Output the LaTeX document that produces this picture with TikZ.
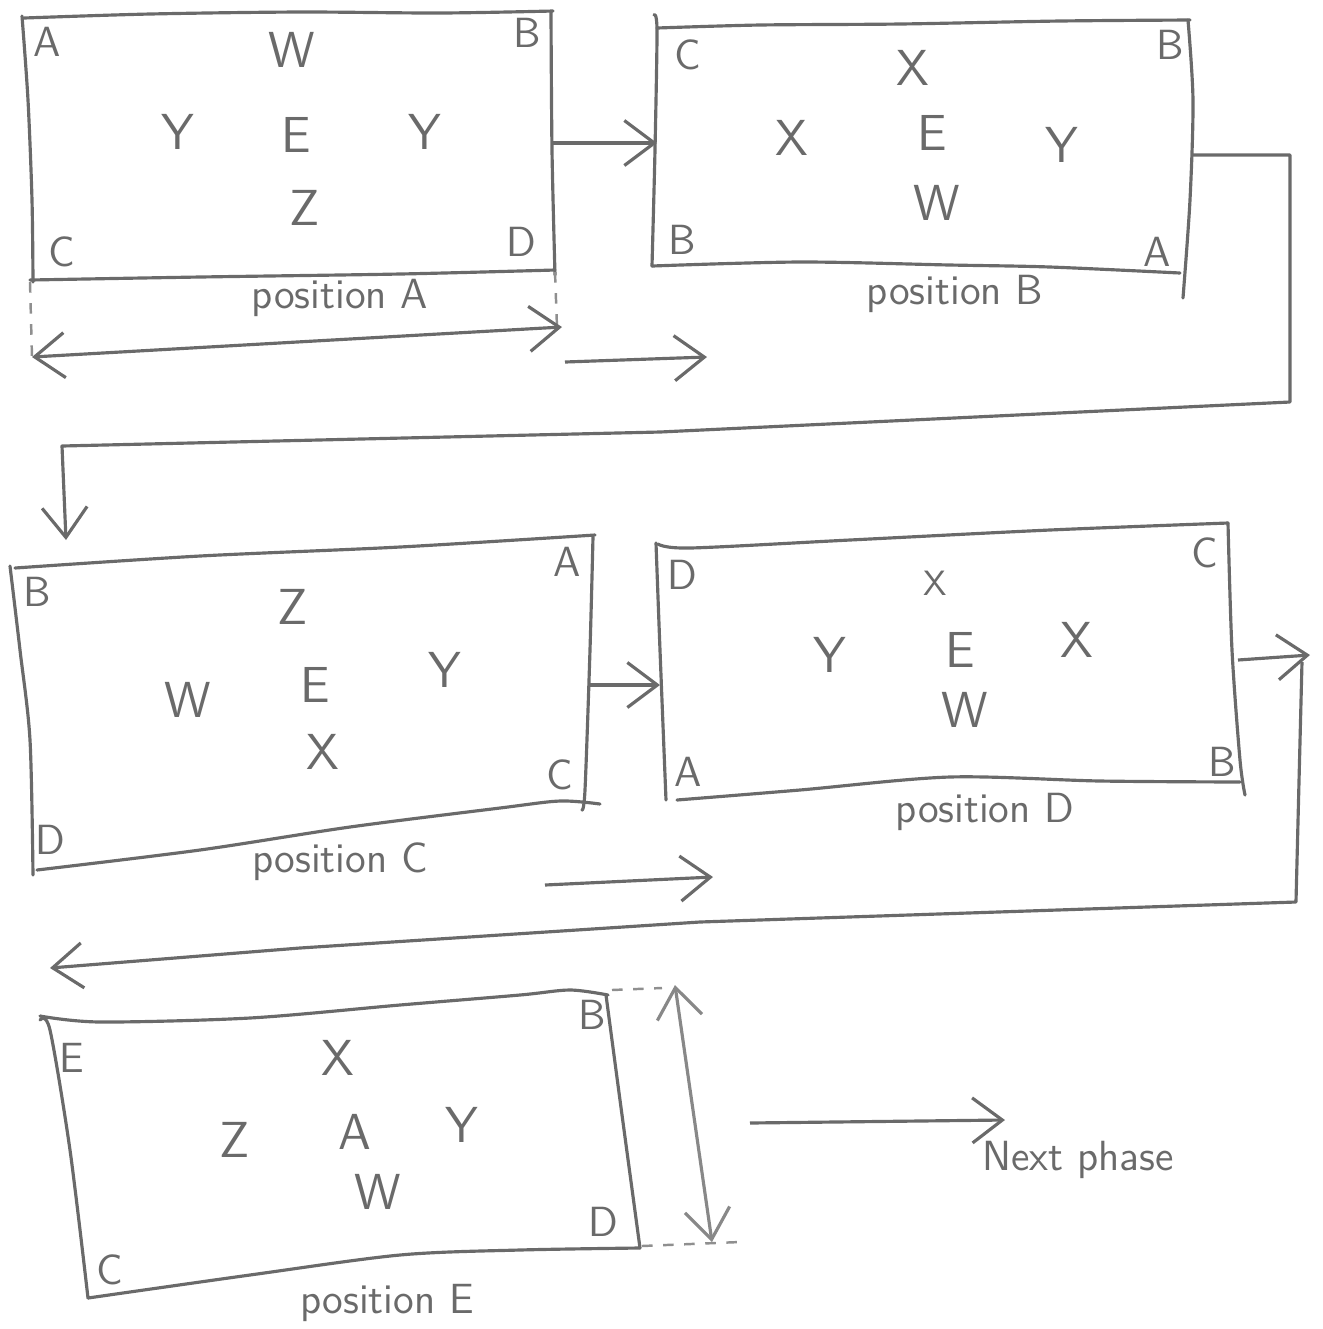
\documentclass[tikz,border=0pt]{standalone}
\usetikzlibrary{arrows.meta}
\definecolor{ink}{HTML}{6A6A6A}

\begin{document}
\begin{tikzpicture}[
    x=0.01cm, y=-0.01cm,
    edge/.style={draw=ink, line width=0.9pt, line cap=round, line join=round},
    guide/.style={draw=ink!75, line width=0.7pt, dashed},
    wire/.style={draw=ink, line width=0.9pt, line join=round},
    corner/.style={text=ink, font=\sffamily\large},
    piece/.style={text=ink, font=\sffamily\Large},
    caption/.style={text=ink, font=\sffamily\large},
    >={Straight Barb[length=3mm,width=4.5mm]}
]

\useasboundingbox (0,0) rectangle (1323,1329);

% --- POSITION A ---
\draw[edge] plot[smooth] coordinates {(24,18) (150,14) (300,12) (440,13) (553,11)};
\draw[edge] plot[smooth] coordinates {(22,16) (28,100) (32,200) (33,282)};
\draw[edge] plot[smooth] coordinates {(30,280) (200,277) (400,274) (555,270)};
\draw[edge] plot[smooth] coordinates {(551,12) (552,150) (555,275)};
\node[corner] (aA) at (47,42) {A};
\node[corner] (aB) at (527,33) {B};
\node[corner] (aC) at (62,252) {C};
\node[corner] (aD) at (521,242) {D};
\node[piece] (aW) at (292,50) {W};
\node[piece] (aY1) at (178,132) {Y};
\node[piece] (aE) at (296,135) {E};
\node[piece] (aY2) at (425,132) {Y};
\node[piece] (aZ) at (305,208) {Z};
\node[caption] (aCap) at (340,298) {position A};

% width of A
\coordinate (aDimL) at (32,357);
\coordinate (aDimR) at (562,327);
\draw[guide] (30,282) -- (32,357);
\draw[guide] (555,272) -- (557,327);
\draw[wire,<->] (aDimL) -- (aDimR);

% --- POSITION B ---
\draw[edge] plot[smooth] coordinates {(657,28) (760,25) (900,24) (1060,21) (1190,20)};
\draw[edge] plot[smooth] coordinates {(654,15) (657,30) (655,150) (652,266)};
\draw[edge] plot[smooth] coordinates {(652,266) (800,262) (950,265) (1050,267) (1180,273)};
\draw[edge] plot[smooth] coordinates {(1188,20) (1193,100) (1190,200) (1183,298)};
\node[corner] (bC) at (688,55) {C};
\node[corner] (bB1) at (1170,45) {B};
\node[corner] (bB2) at (682,240) {B};
\node[corner] (bA) at (1157,252) {A};
\node[piece] (bX1) at (913,68) {X};
\node[piece] (bX2) at (792,138) {X};
\node[piece] (bE) at (932,133) {E};
\node[piece] (bY) at (1062,145) {Y};
\node[piece] (bW) at (937,203) {W};
\node[caption] (bCap) at (955,294) {position B};

% --- A -> B ---
\coordinate (aOut) at (553,143);
\coordinate (bIn) at (657,143);
\draw[wire,->] (aOut) -- (bIn);

\coordinate (moveA1) at (565,362);
\coordinate (moveA2) at (707,357);
\draw[wire,->] (moveA1) -- (moveA2);

% --- B -> C ---
\coordinate (bOut) at (1192,155);
\coordinate (bTurn1) at (1290,155);
\coordinate (bTurn2) at (1290,402);
\coordinate (bTurn3) at (660,432);
\coordinate (bTurn4) at (62,446);
\coordinate (cIn) at (66,540);
\draw[wire,->] (bOut) -- (bTurn1) -- (bTurn2) -- (bTurn3) -- (bTurn4) -- (cIn);

% --- POSITION C ---
\draw[edge] plot[smooth] coordinates {(15,568) (200,556) (400,547) (595,535)};
\draw[edge] plot[smooth] coordinates {(10,566) (20,650) (30,740) (33,875)};
\draw[edge] plot[smooth] coordinates {(37,870) (200,850) (350,827) (500,808) (560,801) (600,804)};
\draw[edge] plot[smooth] coordinates {(593,537) (590,650) (585,790) (582,810)};
\node[corner] (cB) at (37,592) {B};
\node[corner] (cA) at (567,562) {A};
\node[corner] (cC) at (560,775) {C};
\node[corner] (cD) at (50,840) {D};
\node[piece] (cZ) at (293,607) {Z};
\node[piece] (cW) at (188,700) {W};
\node[piece] (cE) at (315,685) {E};
\node[piece] (cY) at (445,670) {Y};
\node[piece] (cX) at (323,752) {X};
\node[caption] (cCap) at (340,862) {position C};

% --- C -> D ---
\coordinate (cOut) at (590,685);
\coordinate (dIn) at (660,685);
\draw[wire,->] (cOut) -- (dIn);

\coordinate (moveC1) at (545,885);
\coordinate (moveC2) at (713,877);
\draw[wire,->] (moveC1) -- (moveC2);

% --- POSITION D ---
\draw[edge] plot[smooth] coordinates {(658,544) (690,548) (850,540) (1050,530) (1228,523)};
\draw[edge] plot[smooth] coordinates {(656,543) (660,650) (666,800)};
\draw[edge] plot[smooth] coordinates {(677,800) (800,790) (950,777) (1100,781) (1240,782)};
\draw[edge] plot[smooth] coordinates {(1228,523) (1232,650) (1240,760) (1245,795)};
\node[corner] (dD) at (682,575) {D};
\node[corner] (dC) at (1205,553) {C};
\node[corner] (dA) at (688,772) {A};
\node[corner] (dB) at (1222,762) {B};
\node[piece,font=\sffamily\normalsize] (dX1) at (935,583) {X};
\node[piece] (dY) at (830,655) {Y};
\node[piece] (dE) at (960,650) {E};
\node[piece] (dX2) at (1077,640) {X};
\node[piece] (dW) at (965,710) {W};
\node[caption] (dCap) at (985,812) {position D};

% --- D -> E ---
\coordinate (dOut) at (1238,660);
\coordinate (dTip) at (1310,655);
\coordinate (dDrop) at (1302,662);
\coordinate (dTurn1) at (1296,902);
\coordinate (dTurn2) at (700,922);
\coordinate (dTurn3) at (300,948);
\coordinate (eIn) at (50,968);
\draw[wire,->] (dOut) -- (dTip);
\draw[wire,->] (dDrop) -- (dTurn1) -- (dTurn2) -- (dTurn3) -- (eIn);

% --- POSITION E ---
\draw[edge] plot[smooth] coordinates {(40,1016) (100,1022) (250,1018) (400,1005) (520,995) (570,990) (608,995)};
\draw[edge] plot[smooth] coordinates {(40,1020) (50,1030) (70,1150) (88,1298)};
\draw[edge] plot[smooth] coordinates {(88,1298) (250,1275) (400,1255) (520,1250) (640,1248)};
\draw[edge] plot[smooth] coordinates {(606,995) (620,1100) (640,1248)};
\node[corner] (eE) at (72,1058) {E};
\node[corner] (eB) at (592,1015) {B};
\node[corner] (eD) at (603,1222) {D};
\node[corner] (eC) at (110,1270) {C};
\node[piece] (eX) at (338,1058) {X};
\node[piece] (eZ) at (235,1140) {Z};
\node[piece] (eA) at (355,1132) {A};
\node[piece] (eY) at (462,1125) {Y};
\node[piece] (eW) at (378,1192) {W};
\node[caption] (eCap) at (387,1303) {position E};

% height of E
\coordinate (eDimT) at (675,985);
\coordinate (eDimB) at (712,1242);
\draw[guide] (612,990) -- (662,988);
\draw[guide] (642,1246) -- (740,1242);
\draw[wire,draw=ink!80,<->] (eDimT) -- (eDimB);

% --- NEXT PHASE ---
\coordinate (eOut) at (750,1123);
\coordinate (nextIn) at (1005,1120);
\draw[wire,->] (eOut) -- (nextIn);
\node[caption] (next) at (1078,1160) {Next phase};

\end{tikzpicture}
\end{document}
